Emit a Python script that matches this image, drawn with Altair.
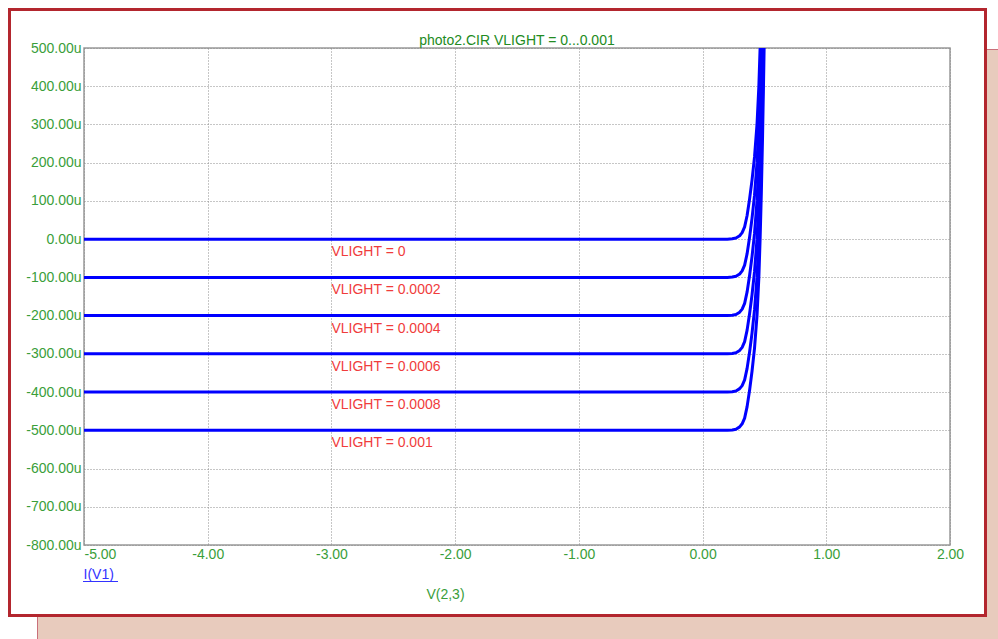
import altair as alt
import pandas as pd

# ---- data ----
V = [-5.0, 0.20, 0.24, 0.27, 0.30, 0.32, 0.34, 0.36, 0.38, 0.40, 0.42, 0.44,
     0.455, 0.465, 0.475, 0.485, 0.495, 0.50]
VLIGHT = ["0", "0.0002", "0.0004", "0.0006", "0.0008", "0.001"]
I_0 = [0, 0, 1, 3, 9, 17, 32, 62, 105, 155, 215, 300, 400, 500, 620, 770, 950, 1050]
I_1 = [-100, -100, -99, -97, -91, -83, -68, -38, 5, 55, 115, 200, 300, 400, 520, 670, 850, 950]
I_2 = [-200, -200, -199, -197, -191, -183, -168, -138, -95, -45, 15, 100, 200, 300, 420, 570, 750, 850]
I_3 = [-300, -300, -299, -297, -291, -283, -268, -238, -195, -145, -85, 0, 100, 200, 320, 470, 650, 750]
I_4 = [-400, -400, -399, -397, -391, -383, -368, -338, -295, -245, -185, -100, 0, 100, 220, 370, 550, 650]
I_5 = [-500, -500, -499, -497, -491, -483, -468, -438, -395, -345, -285, -200, -100, 0, 120, 270, 450, 550]
CURVES = [I_0, I_1, I_2, I_3, I_4, I_5]
LABEL_V = -3.0
X_TICKS = [-5, -4, -3, -2, -1, 0, 1, 2]
Y_TICKS = [500, 400, 300, 200, 100, 0, -100, -200, -300, -400, -500, -600, -700, -800]
TITLE = "photo2.CIR VLIGHT = 0...0.001"
X_TITLE = "V(2,3)"
Y_TITLE = "I(V1)"

rows = []
for name, ilist in zip(VLIGHT, CURVES):
    for k, (v, i) in enumerate(zip(V, ilist)):
        rows.append({"vlight": name, "v": v, "i": i, "order": k})
df = pd.DataFrame(rows)
labels = pd.DataFrame({
    "text": ["VLIGHT = " + s for s in VLIGHT],
    "i": [c[0] for c in CURVES],
    "v": [LABEL_V] * len(VLIGHT),
})

FONT = "Liberation Sans"
GREEN = "#3A9E3A"
W, H = 866, 497

x_scale = alt.Scale(domain=[-5, 2], nice=False, zero=False)
y_scale = alt.Scale(domain=[-800, 500], nice=False, zero=False)

x_axis = alt.Axis(
    values=X_TICKS,
    labelExpr="replace(format(datum.value, '.2f'), '\u2212', '-')",
    labelAlign={"condition": {"test": "datum.value == -5", "value": "left"}, "value": "center"},
    labelColor=GREEN, labelFont=FONT, labelFontSize=14, labelPadding=2,
    labelOverlap=False,
    ticks=False, domain=False, grid=True,
    gridColor="#8c8c8c", gridDash=[1, 2], gridWidth=1,
    title=X_TITLE, titleX=361, titleY=53, titleAlign="center",
    titleBaseline="alphabetic", titleColor=GREEN, titleFont=FONT,
    titleFontSize=14, titleFontWeight="normal",
)
y_axis = alt.Axis(
    values=Y_TICKS,
    labelExpr="replace(format(datum.value, '.2f'), '\u2212', '-') + 'u'",
    labelColor=GREEN, labelFont=FONT, labelFontSize=14, labelPadding=3,
    labelBaseline="middle", labelOverlap=False,
    ticks=False, domain=False, grid=True,
    gridColor="#8c8c8c", gridDash=[1, 2], gridWidth=1,
    title=Y_TITLE, titleAngle=0, titleX=-1, titleY=530, titleAlign="left",
    titleBaseline="alphabetic", titleColor="#3333FF", titleFont=FONT,
    titleFontSize=14, titleFontWeight="normal",
)

one = alt.Data(values=[{"a": 1}])

pink_right = alt.Chart(one).mark_rect(color="#E8CBBD").encode(
    x=alt.value(903), x2=alt.value(914), y=alt.value(1), y2=alt.value(591))
pink_bottom = alt.Chart(one).mark_rect(color="#E8CBBD").encode(
    x=alt.value(-47), x2=alt.value(914), y=alt.value(569), y2=alt.value(591))
pink_edge1 = alt.Chart(one).mark_rule(color="#C9707A", strokeWidth=1).encode(
    x=alt.value(-46.5), y=alt.value(569), y2=alt.value(591))
pink_edge2 = alt.Chart(one).mark_rule(color="#C9707A", strokeWidth=1).encode(
    x=alt.value(903), x2=alt.value(914), y=alt.value(1.5))
border = alt.Chart(one).mark_rect(fill=None, stroke="#B3262E", strokeWidth=3).encode(
    x=alt.value(-74.5), x2=alt.value(901.5), y=alt.value(-38.5), y2=alt.value(567.5))
underline = alt.Chart(one).mark_rule(color="#3333FF", strokeWidth=1).encode(
    x=alt.value(-1), x2=alt.value(34), y=alt.value(533.5))
title_mark = alt.Chart(one).mark_text(
    align="center", baseline="alphabetic", color="#228B22", font=FONT, fontSize=14,
).encode(x=alt.value(W / 2), y=alt.value(-3), text=alt.value(TITLE))

curves = alt.Chart(df).mark_line(color="#0000FF", strokeWidth=3, clip=True,
                                 strokeJoin="round").encode(
    x=alt.X("v:Q", scale=x_scale, axis=x_axis),
    y=alt.Y("i:Q", scale=y_scale, axis=y_axis),
    detail="vlight:N",
    order="order:Q",
)

label_marks = alt.Chart(labels).mark_text(
    align="left", baseline="alphabetic", dx=0, dy=17,
    color="#F03C3C", font=FONT, fontSize=14,
).encode(
    x=alt.X("v:Q", scale=x_scale, axis=x_axis),
    y=alt.Y("i:Q", scale=y_scale, axis=y_axis),
    text="text:N",
)

chart = alt.layer(
    pink_right, pink_bottom, pink_edge1, pink_edge2, border,
    curves, label_marks, underline, title_mark,
).properties(
    width=W, height=H,
    padding={"left": 84, "top": 48, "right": 48, "bottom": 94},
    autosize=alt.AutoSizeParams(type="none"),
).configure(background="white").configure_view(
    stroke="#999999", strokeWidth=1.5
).configure_axis(labelOverlap=False)

chart.save("out.html", embed_options={"renderer": "svg", "actions": False})
